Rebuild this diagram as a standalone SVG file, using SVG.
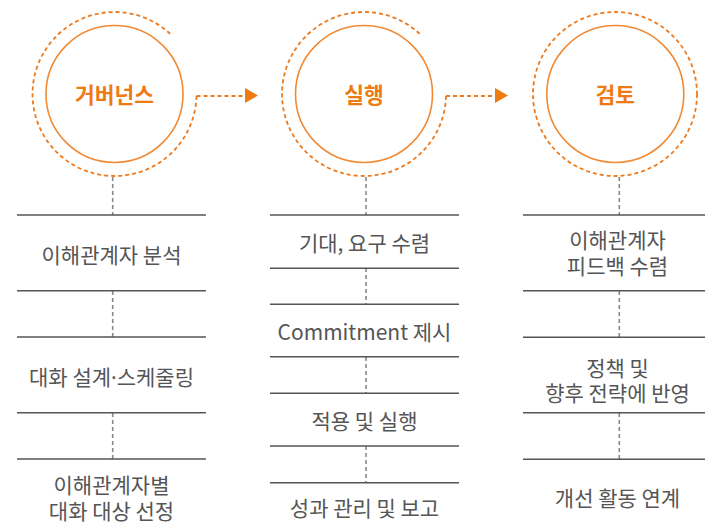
<svg xmlns="http://www.w3.org/2000/svg" width="705" height="532" viewBox="0 0 705 532">
<style>
.inner{fill:none;stroke:#F08A35;stroke-width:1.6}
.outer{fill:none;stroke:#EE7A1E;stroke-width:1.8;stroke-dasharray:4 3}
.title{font-family:"Noto Sans CJK KR","Noto Sans",sans-serif;font-size:21.5px;font-weight:700;fill:#EE7A12;text-anchor:middle}
.hl{stroke:#555;stroke-width:1.5}
.vd{stroke:#888;stroke-width:1.6;stroke-dasharray:4 3}
.lbl{font-family:"Noto Sans CJK KR","Noto Sans",sans-serif;font-size:21px;fill:#555;text-anchor:middle}
.dot{font-family:"Noto Sans",sans-serif}
.arr{fill:#EE7A12}
</style>
<g id="connectors">
<path class="outer" d="M196.5 96 L246 96"/>
<polygon class="arr" points="245,88 258,95.5 245,103"/>
<path class="outer" d="M446 96 L495 96"/>
<polygon class="arr" points="495,88 508,95.5 495,103"/>
<line class="vd" x1="112.7" y1="177" x2="112.7" y2="215"/>
<line class="vd" x1="112.7" y1="291" x2="112.7" y2="337"/>
<line class="vd" x1="112.7" y1="413" x2="112.7" y2="459"/>
<line class="vd" x1="366" y1="177" x2="366" y2="215"/>
<line class="vd" x1="366" y1="268" x2="366" y2="304"/>
<line class="vd" x1="366" y1="357" x2="366" y2="393"/>
<line class="vd" x1="366" y1="446" x2="366" y2="483"/>
<line class="vd" x1="619.3" y1="177" x2="619.3" y2="215"/>
<line class="vd" x1="619.3" y1="291" x2="619.3" y2="337"/>
<line class="vd" x1="619.3" y1="413" x2="619.3" y2="459"/>
</g>
<g id="governance">
<path class="outer" d="M196.5 96 A82 82 0 1 1 170.4 34"/>
<circle class="inner" cx="114.5" cy="94" r="68.5"/>
<text class="title" x="114.5" y="102.5">거버넌스</text>
</g>
<g id="execution">
<path class="outer" d="M446 96 A82 82 0 1 1 419.9 34"/>
<circle class="inner" cx="364" cy="94" r="68.5"/>
<text class="title" x="364" y="102.5">실행</text>
</g>
<g id="review">
<circle class="outer" cx="615" cy="94" r="82"/>
<circle class="inner" cx="615.3" cy="94" r="68.5"/>
<text class="title" x="615.3" y="102.5">검토</text>
</g>
<g id="col1">
<line class="hl" x1="17" y1="215" x2="206" y2="215"/>
<line class="hl" x1="17" y1="290.7" x2="206" y2="290.7"/>
<line class="hl" x1="17" y1="337" x2="206" y2="337"/>
<line class="hl" x1="17" y1="412.7" x2="206" y2="412.7"/>
<line class="hl" x1="17" y1="459" x2="206" y2="459"/>
<text class="lbl" x="111.5" y="262.5">이해관계자 분석</text>
<text class="lbl" x="111.5" y="384.5">대화 설계<tspan class="dot">·</tspan>스케줄링</text>
<text class="lbl" x="111.5" y="492.5">이해관계자별</text>
<text class="lbl" x="111.5" y="519">대화 대상 선정</text>
</g>
<g id="col2">
<line class="hl" x1="270" y1="215" x2="459" y2="215"/>
<line class="hl" x1="270" y1="268.3" x2="459" y2="268.3"/>
<line class="hl" x1="270" y1="304.3" x2="459" y2="304.3"/>
<line class="hl" x1="270" y1="356.7" x2="459" y2="356.7"/>
<line class="hl" x1="270" y1="393.3" x2="459" y2="393.3"/>
<line class="hl" x1="270" y1="446" x2="459" y2="446"/>
<line class="hl" x1="270" y1="482.7" x2="459" y2="482.7"/>
<text class="lbl" x="364.5" y="250.5">기대, 요구 수렴</text>
<text class="lbl" x="364.5" y="339.5">Commitment 제시</text>
<text class="lbl" x="364.5" y="429">적용 및 실행</text>
<text class="lbl" x="364.5" y="515.5">성과 관리 및 보고</text>
</g>
<g id="col3">
<line class="hl" x1="523" y1="215" x2="712" y2="215"/>
<line class="hl" x1="523" y1="290.7" x2="712" y2="290.7"/>
<line class="hl" x1="523" y1="337.3" x2="712" y2="337.3"/>
<line class="hl" x1="523" y1="412.7" x2="712" y2="412.7"/>
<line class="hl" x1="523" y1="459.3" x2="712" y2="459.3"/>
<text class="lbl" x="617.5" y="247.5">이해관계자</text>
<text class="lbl" x="617.5" y="274">피드백 수렴</text>
<text class="lbl" x="617.5" y="375.5">정책 및</text>
<text class="lbl" x="617.5" y="400.5">향후 전략에 반영</text>
<text class="lbl" x="617.5" y="505.5">개선 활동 연계</text>
</g>
</svg>
